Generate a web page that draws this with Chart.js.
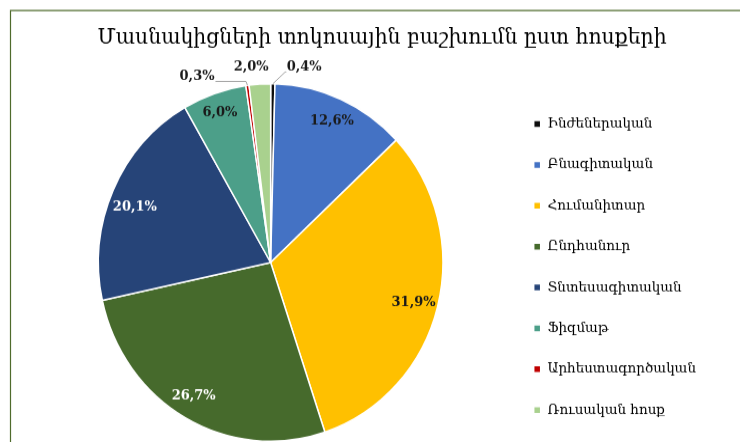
<!DOCTYPE html>
<html><head><meta charset="utf-8">
<script src="https://cdn.jsdelivr.net/npm/chart.js@4.4.0/dist/chart.umd.min.js"></script>
<style>html,body{margin:0;padding:0;background:#fff;overflow:hidden;}canvas{display:block;}</style>
</head><body>
<canvas id="c" width="740" height="426" style="width:740px;height:442px"></canvas>
<script>
const chartTitle = 'Մասնակիցների տոկոսային բաշխումն ըստ հոսքերի';
const categories = ['Ինժեներական', 'Բնագիտական', 'Հումանիտար', 'Ընդհանուր', 'Տնտեսագիտական', 'Ֆիզմաթ', 'Արհեստագործական', 'Ռուսական հոսք'];
const shares = [0.4, 12.6, 31.9, 26.7, 20.1, 6.0, 0.3, 2.0];
const sliceColors = ['#0d0d0d', '#4472c4', '#ffc000', '#466a2c', '#264478', '#4c9f89', '#c00000', '#a9d18e'];

const FONT = '"DejaVu Serif", serif';
// label placement styles per slice (inside labels: fraction of radius + nudge; outside: offset from rim)
const labelStyles = [
  {inside:false, dx:31.3, dy:-15.8, path:[[12.3,-11.3],[13.5,-11.3]]},
  {inside:true, r:0.87, dx:0, dy:0, color:'#1a1a1a'},
  {inside:true, r:0.85, dx:1, dy:2.5, color:'#1a1a1a'},
  {inside:true, r:0.855, dx:-4, dy:1, color:'#ffffff'},
  {inside:true, r:0.85, dx:-2, dy:6, color:'#ffffff'},
  {inside:true, r:0.9, dx:0, dy:1.8, color:'#1a1a1a'},
  {inside:false, dx:-50.4, dy:-8.6, path:[[-1.4,-3.8],[-32,-3.8]]},
  {inside:false, dx:-8.7, dy:-16.1, path:[]}
];
const fmt = v => v.toFixed(1).replace('.', ',') + '%';

const framePlugin = {
  id: 'frame',
  afterLayout(chart) {
    if (chart.legend) { chart.legend.top += 1.8; chart.legend.bottom += 1.8; }
  },
  beforeDraw(chart) {
    const ctx = chart.ctx;
    ctx.save();
    ctx.fillStyle = '#fff';
    ctx.fillRect(0, 0, chart.width, chart.height);
    ctx.strokeStyle = '#4f6b2c';
    ctx.lineWidth = 1.2;
    ctx.beginPath();
    ctx.moveTo(10.5, chart.height);
    ctx.lineTo(10.5, 10.2);
    ctx.lineTo(chart.width, 10.2);
    ctx.stroke();
    // chart title
    ctx.fillStyle = '#000';
    ctx.font = '20.4px ' + FONT;
    ctx.textAlign = 'center';
    ctx.textBaseline = 'middle';
    ctx.fillText(chartTitle, 382, 36.8);
    ctx.restore();
  }
};

const labelPlugin = {
  id: 'sliceLabels',
  afterDatasetsDraw(chart) {
    const ctx = chart.ctx;
    const meta = chart.getDatasetMeta(0);
    meta.data.forEach((arc, i) => {
      const p = arc.getProps(['x', 'y', 'startAngle', 'endAngle', 'outerRadius'], true);
      const mid = (p.startAngle + p.endAngle) / 2;
      const st = labelStyles[i];
      const text = fmt(shares[i]);
      ctx.save();
      ctx.font = 'bold 13px ' + FONT;
      ctx.textAlign = 'center';
      ctx.textBaseline = 'middle';
      if (st.inside) {
        const r = p.outerRadius * st.r;
        ctx.fillStyle = st.color;
        ctx.fillText(text, p.x + Math.cos(mid) * r + st.dx, p.y + Math.sin(mid) * r + st.dy);
      } else {
        const ax = p.x + Math.cos(mid) * p.outerRadius;
        const ay = p.y + Math.sin(mid) * p.outerRadius;
        if (st.path.length) {
          ctx.strokeStyle = '#a6a6a6';
          ctx.lineWidth = 1;
          ctx.beginPath();
          ctx.moveTo(ax, ay);
          st.path.forEach(q => ctx.lineTo(ax + q[0], ay + q[1]));
          ctx.stroke();
        }
        ctx.fillStyle = '#1a1a1a';
        ctx.fillText(text, ax + st.dx, ay + st.dy);
      }
      ctx.restore();
    });
  }
};

new Chart(document.getElementById('c'), {
  type: 'pie',
  data: {
    labels: categories,
    datasets: [{
      data: shares,
      backgroundColor: sliceColors,
      borderColor: '#ffffff',
      borderWidth: 1.5,
      hoverOffset: 0
    }]
  },
  options: {
    responsive: false,
    animation: false,
    layout: {padding: {left: 33.5, right: 34, top: 80, bottom: 0}},
    plugins: {
      tooltip: {enabled: false},
      title: {display: false},
      legend: {
        position: 'right',
        align: 'end',
        fullSize: false,
        labels: {
          boxWidth: 7,
          boxHeight: 7,
          padding: 25.88,
          color: '#000',
          font: {family: FONT, size: 13.5}
        }
      }
    }
  },
  plugins: [framePlugin, labelPlugin]
});
</script>
</body></html>
